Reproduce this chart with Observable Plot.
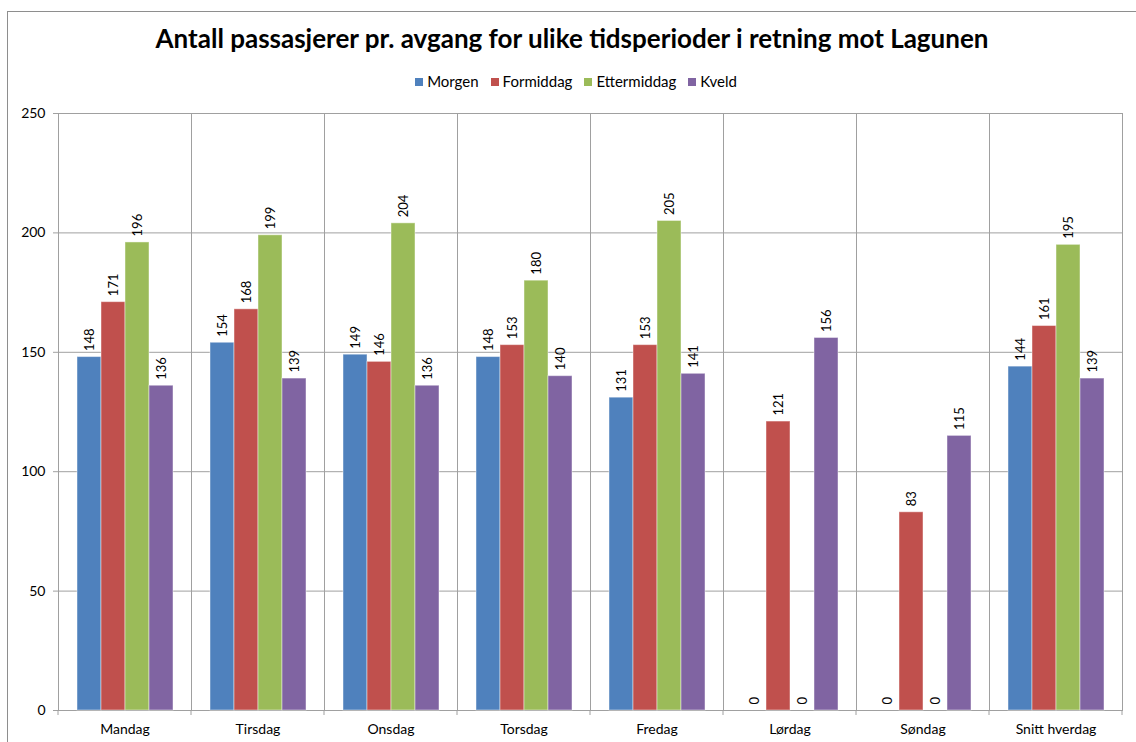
<!DOCTYPE html>
<html>
<head>
<meta charset="utf-8">
<script src="https://cdn.jsdelivr.net/npm/d3@7"></script>
<script src="https://cdn.jsdelivr.net/npm/@observablehq/plot@0.6"></script>
<style>
  html, body { margin: 0; padding: 0; background: #fff; }
  #wrap { position: relative; width: 1136px; height: 742px; overflow: hidden; font-family: Lato, "Open Sans", sans-serif; }
  #border { position: absolute; left: 7px; top: 11px; width: 1300px; height: 900px; border: 1.5px solid #8e8e8e; box-sizing: border-box; }
  #title { position: absolute; left: 0; width: 1144px; top: 22px; text-align: center; font-weight: bold; font-size: 26px; color: #000; }
  #legend { position: absolute; left: 0; width: 1152px; top: 72px; text-align: center; font-size: 15px; color: #000; }
  #legend span.item { display: inline-block; margin: 0 6px; }
  #legend span.sw { display: inline-block; width: 8px; height: 8px; margin-right: 4px; vertical-align: 1px; }
  #chart { position: absolute; left: 0; top: 0; }
</style>
</head>
<body>
<div id="wrap">
  <div id="border"></div>
  <div id="chart"></div>
  <div id="title"></div>
  <div id="legend"></div>
</div>
<script>
const titleText = "Antall passasjerer pr. avgang for ulike tidsperioder i retning mot Lagunen";
const categories = ["Mandag", "Tirsdag", "Onsdag", "Torsdag", "Fredag", "Lørdag", "Søndag", "Snitt hverdag"];
const series = ["Morgen", "Formiddag", "Ettermiddag", "Kveld"];
const colors = ["#4F81BD", "#C0504D", "#9BBB59", "#8064A2"];
const morgen      = [148, 154, 149, 148, 131, 0, 0, 144];
const formiddag   = [171, 168, 146, 153, 153, 121, 83, 161];
const ettermiddag = [196, 199, 204, 180, 205, 0, 0, 195];
const kveld       = [136, 139, 136, 140, 141, 156, 115, 139];
const yTicks = [0, 50, 100, 150, 200, 250];

const valuesBySeries = [morgen, formiddag, ettermiddag, kveld];
const rows = [];
categories.forEach((c, i) => {
  series.forEach((s, j) => rows.push({day: c, series: s, value: valuesBySeries[j][i]}));
});

document.getElementById("title").textContent = titleText;
const legend = document.getElementById("legend");
series.forEach((s, j) => {
  const item = document.createElement("span");
  item.className = "item";
  const sw = document.createElement("span");
  sw.className = "sw";
  sw.style.background = colors[j];
  item.appendChild(sw);
  item.appendChild(document.createTextNode(s));
  legend.appendChild(item);
});

const gridColor = "#a0a0a0";

const plot = Plot.plot({
  width: 1136,
  height: 742,
  marginTop: 113,
  marginLeft: 56,
  marginRight: 13,
  marginBottom: 32,
  style: {fontFamily: "Lato, 'Open Sans', sans-serif", fontSize: "14px", color: "#000", background: "transparent"},
  facet: {data: rows, x: "day", marginTop: 0, marginBottom: 0, marginLeft: 0, marginRight: 0},
  fx: {domain: categories, padding: 0, label: null, axis: "bottom", tickSize: 0, tickPadding: 14},
  x: {domain: series, paddingInner: 0, paddingOuter: 0.68, axis: null},
  y: {domain: [0, 250], ticks: yTicks, label: null, tickSize: 5, tickPadding: 8},
  color: {domain: series, range: colors},
  marks: [
    Plot.gridY(yTicks, {stroke: gridColor, strokeOpacity: 1}),
    Plot.frame({stroke: gridColor}),
    Plot.barY(rows, {x: "series", y: "value", fill: "series", stroke: "#ffffff", strokeOpacity: 0.45, strokeWidth: 1}),
    Plot.text(rows, {x: "series", y: "value", text: d => String(Math.round(d.value)), rotate: -90, textAnchor: "start", dy: -6, fontSize: 13, fill: "#000"})
  ]
});

document.getElementById("chart").appendChild(plot);

// boundary tick marks below the category axis, placed with Plot's own fx scale
const fx = plot.scale("fx");
const y = plot.scale("y");
const svg = d3.select(plot);
const bw = fx.bandwidth;
const edges = categories.map(c => fx.apply(c)).concat([fx.apply(categories[categories.length - 1]) + bw]);
const y0 = y.apply(0);
svg.append("g").selectAll("line").data(edges).join("line")
  .attr("x1", d => d).attr("x2", d => d)
  .attr("y1", y0).attr("y2", y0 + 5)
  .attr("stroke", gridColor);
svg.selectAll('g[aria-label="y-axis"] line, g[aria-label="y-axis tick"] path').attr("stroke", gridColor);
</script>
</body>
</html>
